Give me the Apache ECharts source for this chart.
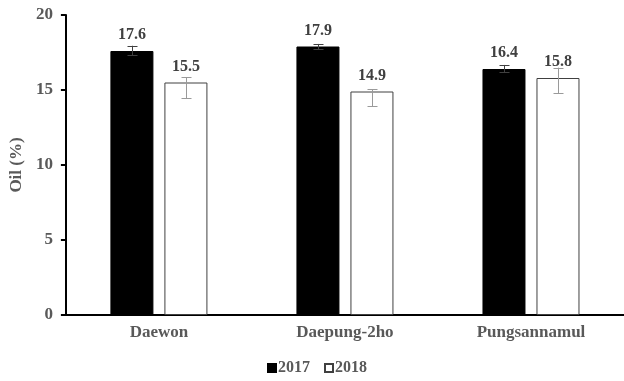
<!DOCTYPE html>
<html>
<head>
<meta charset="utf-8">
<script src="https://cdn.jsdelivr.net/npm/echarts@6/dist/echarts.min.js"></script>
<style>
  html, body { margin: 0; padding: 0; background: #fff; }
  #chart { width: 624px; height: 381px; }
</style>
</head>
<body>
<div id="chart"></div>
<script>
// Oil content by cultivar and year, with error bar limits
const categories = ['Daewon', 'Daepung-2ho', 'Pungsannamul'];
const seriesNames = ['2017', '2018'];
const oil2017 = [17.6, 17.9, 16.4];
const oil2018 = [15.5, 14.9, 15.8];
const low2017 = [17.33, 17.73, 16.18];
const high2017 = [17.95, 18.07, 16.67];
const low2018 = [14.45, 13.93, 14.78];
const high2018 = [15.85, 15.05, 16.49];
const yTicks = [0, 5, 10, 15, 20];

const FONT = '"Liberation Serif", "Times New Roman", serif';
const BAR_W = 43;
const GAP = 11;

const chart = echarts.init(document.getElementById('chart'), null, { renderer: 'canvas' });

// Error bar drawn at a bar's centre; offset shifts it to the left/right bar of the pair
function errorBarSeries(name, low, high, offset, color) {
  return {
    type: 'custom',
    name: name + ' err',
    z: 5,
    silent: true,
    data: categories.map((c, i) => [i, low[i], high[i]]),
    renderItem: function (params, api) {
      const lo = api.coord([api.value(0), api.value(1)]);
      const hi = api.coord([api.value(0), api.value(2)]);
      const x = Math.round(lo[0] + offset) + 0.5;
      const cap = 5;
      const style = { stroke: color, lineWidth: 1 };
      return {
        type: 'group',
        children: [
          { type: 'line', shape: { x1: x, y1: hi[1], x2: x, y2: lo[1] }, style: style },
          { type: 'line', shape: { x1: x - cap, y1: Math.round(hi[1]) + 0.5, x2: x + cap, y2: Math.round(hi[1]) + 0.5 }, style: style },
          { type: 'line', shape: { x1: x - cap, y1: Math.round(lo[1]) + 0.5, x2: x + cap, y2: Math.round(lo[1]) + 0.5 }, style: style }
        ]
      };
    },
    encode: { x: 0, y: [1, 2] }
  };
}

const labelStyle = {
  show: true,
  position: 'top',
  distance: 8,
  fontFamily: FONT,
  fontWeight: 'bold',
  fontSize: 16,
  color: '#404040',
  formatter: p => p.value.toFixed(1)
};

chart.setOption({
  animation: false,
  backgroundColor: '#ffffff',
  grid: { left: 62, right: -3, top: 15, bottom: 66, containLabel: false },
  legend: {
    bottom: 0,
    left: 262,
    itemWidth: 8,
    itemHeight: 8,
    itemGap: 14,
    icon: 'rect',
    textStyle: { fontFamily: FONT, fontWeight: 'bold', fontSize: 16, color: '#595959', padding: [0, 0, 0, -3] },
    data: seriesNames
  },
  xAxis: {
    type: 'category',
    data: categories,
    axisLine: { lineStyle: { color: '#000', width: 2 } },
    axisTick: { show: false },
    axisLabel: { fontFamily: FONT, fontWeight: 'bold', fontSize: 17, color: '#595959', margin: 9 }
  },
  yAxis: {
    type: 'value',
    min: yTicks[0],
    max: yTicks[yTicks.length - 1],
    interval: 5,
    name: 'Oil (%)',
    nameLocation: 'middle',
    nameGap: 33,
    nameTextStyle: { fontFamily: FONT, fontWeight: 'bold', fontSize: 17, color: '#595959' },
    axisLine: { show: true, lineStyle: { color: '#000', width: 2 } },
    axisTick: { show: true, length: 5, inside: false, lineStyle: { color: '#000', width: 2 } },
    splitLine: { show: false },
    axisLabel: { fontFamily: FONT, fontWeight: 'bold', fontSize: 17, color: '#595959', margin: 13 }
  },
  series: [
    {
      name: seriesNames[0],
      type: 'bar',
      data: oil2017,
      barWidth: BAR_W,
      barGap: (GAP / BAR_W * 100) + '%',
      itemStyle: { color: '#000000', borderColor: '#000000', borderWidth: 1 },
      label: labelStyle
    },
    {
      name: seriesNames[1],
      type: 'bar',
      data: oil2018,
      barWidth: BAR_W,
      itemStyle: { color: '#ffffff', borderColor: '#404040', borderWidth: 1 },
      label: labelStyle
    },
    errorBarSeries('2017', low2017, high2017, -(BAR_W + GAP) / 2, '#404040'),
    errorBarSeries('2018', low2018, high2018, (BAR_W + GAP) / 2, '#9a9a9a')
  ]
});
</script>
</body>
</html>
